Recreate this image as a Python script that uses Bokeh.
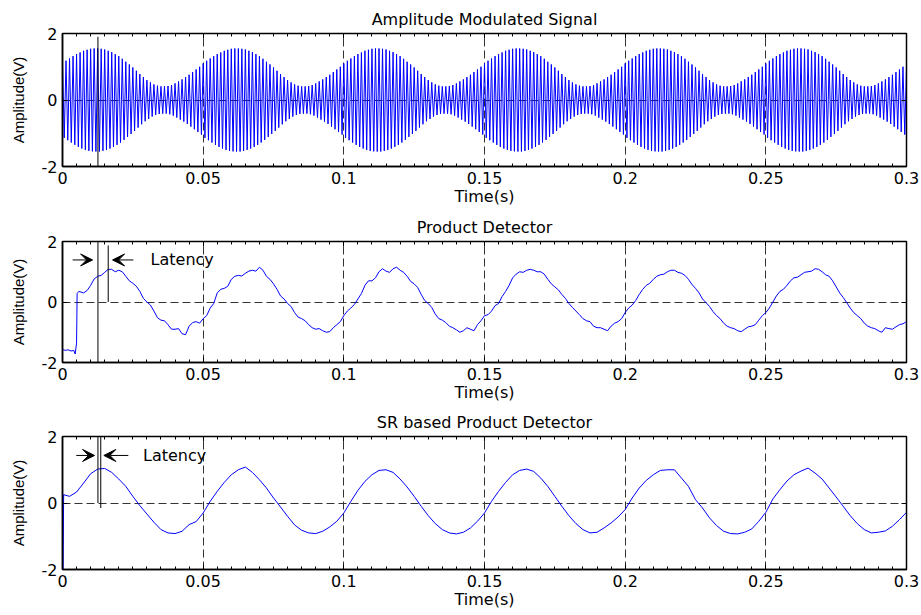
import numpy as np
from bokeh.plotting import figure
from bokeh.models import FixedTicker, LinearAxis, Range1d, Arrow, VeeHead, Label
from bokeh.layouts import column
from bokeh.embed import file_html
from bokeh.resources import INLINE

# ---------------- data ----------------
x_ticks = [0, 0.05, 0.1, 0.15, 0.2, 0.25, 0.3]
x_tick_labels = ["0", "0.05", "0.1", "0.15", "0.2", "0.25", "0.3"]
y_ticks = [-2, 0, 2]
y_tick_labels = ["-2", "0", "2"]
titles = ["Amplitude Modulated Signal", "Product Detector", "SR based Product Detector"]
x_label = "Time(s)"
y_label = "Amplitude(V)"

# AM signal: envelope height of each carrier half-cycle over one 0.05 s
# modulation period (80 half-cycles); the six lobes are identical
am_period = 0.05
am_lobe = [1.10, 1.14, 1.18, 1.21, 1.25, 1.28, 1.32, 1.35, 1.38, 1.41,
           1.43, 1.46, 1.48, 1.50, 1.51, 1.53, 1.54, 1.545, 1.55, 1.55,
           1.55, 1.55, 1.54, 1.53, 1.52, 1.50, 1.48, 1.46, 1.44, 1.41,
           1.38, 1.35, 1.32, 1.28, 1.24, 1.20, 1.15, 1.11, 1.07, 1.02,
           0.98, 0.93, 0.88, 0.83, 0.78, 0.73, 0.69, 0.64, 0.60, 0.57,
           0.53, 0.50, 0.47, 0.45, 0.43, 0.42, 0.41, 0.41, 0.41, 0.41,
           0.42, 0.43, 0.45, 0.47, 0.50, 0.53, 0.56, 0.59, 0.62, 0.65,
           0.69, 0.72, 0.76, 0.80, 0.84, 0.88, 0.92, 0.96, 1.00, 1.04]
am_lobes = 6
am_end = [0.98]

# Product detector output: start-up transient, then readings every 2.5 ms
# (pd_v_main) with the in-between readings (pd_v_mid) that carry the noise
pd_t_start = [0.0, 0.001, 0.002, 0.003, 0.004, 0.0045, 0.005, 0.0052, 0.0058]
pd_v_start = [-1.57, -1.60, -1.58, -1.62, -1.60, -1.72, -1.35, 0.28, 0.35]
pd_v_main = [0.30, 0.55, 0.85, 0.98, 1.08, 1.05, 0.85, 0.62, 0.35, 0.00, -0.30, -0.60, -0.75, -0.90, -1.05, -0.80, -0.65, -0.55,
             -0.20, 0.30, 0.45, 0.75, 0.88, 0.95, 1.05, 1.15, 0.85, 0.60, 0.20, -0.05, -0.35, -0.55, -0.75, -0.90, -0.95, -0.98, -0.75, -0.45,
             -0.20, 0.10, 0.55, 0.70, 1.00, 1.02, 1.10, 1.05, 0.85, 0.60, 0.25, -0.05, -0.40, -0.60, -0.80, -0.92, -0.95, -0.90, -0.75, -0.45,
             -0.30, -0.05, 0.35, 0.80, 1.00, 1.05, 1.05, 1.00, 0.75, 0.50, 0.25, -0.05, -0.30, -0.55, -0.65, -0.85, -0.90, -0.80, -0.65, -0.35,
             -0.10, 0.25, 0.55, 0.75, 0.90, 1.00, 1.05, 0.95, 0.75, 0.45, 0.10, -0.15, -0.45, -0.70, -0.85, -0.95, -0.90, -0.80, -0.60, -0.35,
             0.00, 0.35, 0.55, 0.80, 0.90, 1.00, 1.10, 1.00, 0.85, 0.50, 0.15, -0.20, -0.45, -0.70, -0.85, -0.95, -0.85, -0.90, -0.75, -0.65]
pd_v_mid = [0.38, 0.76, 0.88, 1.08, 1.00, 1.00, 0.70, 0.52, 0.12, -0.10, -0.52, -0.62, -0.90, -0.88, -1.08, -0.68, -0.70, -0.45,
            -0.05, 0.42, 0.52, 0.85, 0.86, 1.02, 1.02, 1.05, 0.75, 0.42, 0.10, -0.15, -0.50, -0.62, -0.85, -0.88, -1.00, -0.85, -0.65, -0.30,
            -0.08, 0.28, 0.70, 0.80, 1.10, 0.98, 1.15, 0.98, 0.68, 0.48, 0.05, -0.18, -0.55, -0.68, -0.85, -1.00, -0.85, -0.95, -0.62, -0.42,
            -0.12, 0.18, 0.55, 0.92, 0.98, 1.08, 1.00, 0.92, 0.60, 0.40, 0.12, -0.18, -0.42, -0.62, -0.80, -0.85, -0.95, -0.70, -0.55, -0.20,
            0.05, 0.42, 0.62, 0.85, 0.92, 1.05, 0.98, 0.88, 0.58, 0.30, -0.02, -0.32, -0.55, -0.80, -0.88, -0.98, -0.82, -0.75, -0.45, -0.20,
            0.20, 0.42, 0.70, 0.82, 0.98, 1.02, 1.08, 0.90, 0.70, 0.30, -0.02, -0.35, -0.55, -0.80, -0.88, -1.00, -0.88, -0.82, -0.72]
pd_main_t0 = 0.0075
pd_step = 0.0025

# SR based product detector output
sr_t_start = [0.0002, 0.0004]
sr_v_start = [-2.3, 0.25]
sr_v_rest = [0.20, 0.33, 0.60, 0.88, 1.02, 1.04, 0.92, 0.72, 0.50, 0.20, -0.08, -0.33, -0.58, -0.80, -0.90, -0.92, -0.85, -0.65, -0.56, -0.30,
             0.05, 0.35, 0.62, 0.85, 1.00, 1.08, 0.92, 0.70, 0.45, 0.15, -0.12, -0.40, -0.66, -0.82, -0.90, -0.92, -0.85, -0.72, -0.55, -0.30,
             0.05, 0.38, 0.65, 0.85, 0.98, 1.00, 0.92, 0.72, 0.48, 0.20, -0.10, -0.38, -0.62, -0.80, -0.90, -0.93, -0.88, -0.75, -0.55, -0.30,
             0.05, 0.35, 0.62, 0.85, 0.98, 1.02, 0.95, 0.75, 0.50, 0.20, -0.10, -0.38, -0.62, -0.80, -0.90, -0.88, -0.75, -0.60, -0.42, -0.20,
             0.15, 0.45, 0.68, 0.85, 0.98, 1.00, 1.00, 0.75, 0.50, 0.10, -0.15, -0.45, -0.68, -0.85, -0.92, -0.93, -0.88, -0.78, -0.55, -0.28,
             0.12, 0.40, 0.66, 0.85, 0.96, 1.05, 0.90, 0.72, 0.45, 0.18, -0.10, -0.38, -0.62, -0.80, -0.90, -0.88, -0.84, -0.70, -0.50, -0.28]
sr_t = sr_t_start + [round(0.0025 + i * 0.0025, 4) for i in range(len(sr_v_rest))]
sr_v = sr_v_start + sr_v_rest

# latency markers (time in s)
marker_long_t = 0.0126
marker_pd_t = 0.01625
marker_sr_t = 0.0136

FONT = "DejaVu Sans"
YFONT = "Liberation Sans"
BLUE = "#0000FF"


def make_fig(height, b_top, b_bottom, title):
    p = figure(width=921, height=height, x_range=Range1d(0, 0.3), y_range=Range1d(-2, 2),
               output_backend="svg", toolbar_location=None,
               min_border_left=62, min_border_right=15, min_border_top=b_top, min_border_bottom=b_bottom)
    p.title.text = title
    p.title.align = "center"
    p.title.text_font = FONT
    p.title.text_font_size = "16px"
    p.title.text_font_style = "normal"
    p.title.text_color = "black"
    p.title.standoff = 10
    p.outline_line_color = "black"
    p.outline_line_width = 1.5

    minor = [round(i * 0.005, 3) for i in range(61)]
    xt = FixedTicker(ticks=x_ticks, minor_ticks=minor)
    yt = FixedTicker(ticks=y_ticks, minor_ticks=[])
    for ax in p.xaxis:
        ax.ticker = xt
        ax.major_label_overrides = dict(zip(x_ticks, x_tick_labels))
        ax.axis_label = x_label
    for ax in p.yaxis:
        ax.ticker = yt
        ax.major_label_overrides = dict(zip(y_ticks, y_tick_labels))
        ax.axis_label = y_label
    for ax in p.xaxis + p.yaxis:
        ax.major_tick_in = 5
        ax.major_tick_out = 0
        ax.minor_tick_in = 3
        ax.minor_tick_out = 0
        ax.axis_line_color = "black"
        ax.axis_line_width = 1.5
        ax.major_tick_line_color = "black"
        ax.minor_tick_line_color = "black"
        ax.major_label_text_font = FONT
        ax.major_label_text_font_size = "16px"
        ax.major_label_text_color = "black"
        ax.axis_label_text_font_style = "normal"
        ax.axis_label_text_color = "black"
    p.xaxis.major_label_standoff = 5
    p.xaxis.axis_label_standoff = 0
    p.xaxis.axis_label_text_font = FONT
    p.xaxis.axis_label_text_font_size = "16px"
    p.yaxis.major_label_standoff = 5
    p.yaxis.axis_label_standoff = 12
    p.yaxis.axis_label_text_font = YFONT
    p.yaxis.axis_label_text_font_size = "15px"

    top = LinearAxis(ticker=xt, major_label_text_font_size="1px", major_label_text_color=None,
                     major_label_standoff=0,
                     major_tick_in=5, major_tick_out=0, minor_tick_in=3, minor_tick_out=0,
                     axis_line_color="black", major_tick_line_color="black", minor_tick_line_color="black")
    p.add_layout(top, "above")
    right = LinearAxis(ticker=yt, major_label_text_font_size="1px", major_label_text_color=None,
                       major_label_standoff=0,
                       major_tick_in=5, major_tick_out=0, minor_tick_in=0, minor_tick_out=0,
                       axis_line_color="black", major_tick_line_color="black")
    p.add_layout(right, "right")

    p.xgrid.ticker = FixedTicker(ticks=[0.05, 0.1, 0.15, 0.2, 0.25])
    p.ygrid.ticker = FixedTicker(ticks=[0])
    for g in (p.xgrid, p.ygrid):
        g.grid_line_color = "#333333"
        g.grid_line_dash = "8 4"
        g.grid_line_width = 1
    return p


def head():
    return VeeHead(size=12, fill_color="black", line_color="black")


# ---- panel 1
p1 = make_fig(210, 33, 44, titles[0])
am_peaks = am_lobe * am_lobes + am_end
am_dt = am_period / len(am_lobe)
am_t = [k * am_dt for k in range(len(am_peaks))]
am_y = [a if k % 2 == 0 else -a for k, a in enumerate(am_peaks)]
p1.line(am_t, am_y, line_color=BLUE, line_width=1)
p1.add_layout(Arrow(end=None, start=None, x_start=marker_long_t, y_start=1.9, x_end=marker_long_t, y_end=-30,
                    line_color="black", line_width=1))

# ---- panel 2
pd_t = list(pd_t_start)
pd_v = list(pd_v_start)
for i, v in enumerate(pd_v_main):
    t0 = pd_main_t0 + i * pd_step
    pd_t.append(t0)
    pd_v.append(v)
    if i < len(pd_v_mid):
        pd_t.append(t0 + pd_step / 2)
        pd_v.append(pd_v_mid[i])

p2 = make_fig(195, 29, 43, titles[1])
p2.line(pd_t, pd_v, line_color=BLUE, line_width=1)
p2.add_layout(Arrow(end=None, start=None, x_start=marker_long_t, y_start=30, x_end=marker_long_t, y_end=-30,
                    line_color="black", line_width=1))
p2.add_layout(Arrow(end=None, start=None, x_start=marker_pd_t, y_start=1.87, x_end=marker_pd_t, y_end=0.0,
                    line_color="black", line_width=1))
p2.add_layout(Arrow(end=head(), x_start=0.0036, y_start=1.39, x_end=0.0107, y_end=1.39,
                    line_color="black", line_width=1))
p2.add_layout(Arrow(end=head(), x_start=0.0252, y_start=1.39, x_end=0.0178, y_end=1.39,
                    line_color="black", line_width=1))
p2.add_layout(Label(x=0.0313, y=1.39, text="Latency", text_baseline="middle", text_font=FONT,
                    text_font_size="16px", text_color="black"))

# ---- panel 3
p3 = make_fig(210, 30, 46, titles[2])
p3.line(sr_t, sr_v, line_color=BLUE, line_width=1)
p3.add_layout(Arrow(end=None, start=None, x_start=marker_long_t, y_start=30, x_end=marker_long_t, y_end=0.0,
                    line_color="black", line_width=1))
p3.add_layout(Arrow(end=None, start=None, x_start=marker_sr_t, y_start=2.0, x_end=marker_sr_t, y_end=-0.15,
                    line_color="black", line_width=1))
p3.add_layout(Arrow(end=head(), x_start=0.0049, y_start=1.43, x_end=0.0114, y_end=1.43,
                    line_color="black", line_width=1))
p3.add_layout(Arrow(end=head(), x_start=0.0234, y_start=1.43, x_end=0.0147, y_end=1.43,
                    line_color="black", line_width=1))
p3.add_layout(Label(x=0.0286, y=1.43, text="Latency", text_baseline="middle", text_font=FONT,
                    text_font_size="16px", text_color="black"))

layout = column(p1, p2, p3)
open("out.html", "w").write(file_html(layout, INLINE))
